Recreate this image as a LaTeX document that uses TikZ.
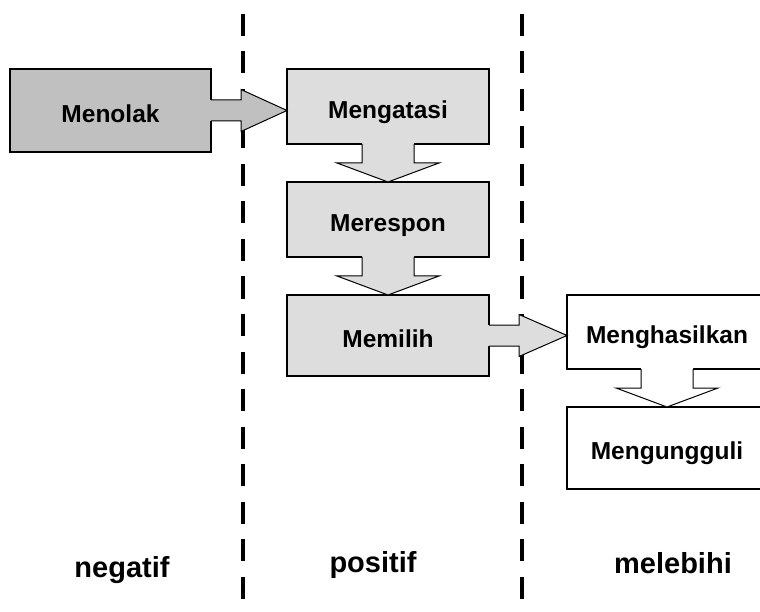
\documentclass[tikz,border=0pt]{standalone}
\usepackage{fontspec}
\setmainfont{Liberation Sans}
\usetikzlibrary{calc}
\definecolor{darkfill}{HTML}{C0C0C0}
\definecolor{lightfill}{HTML}{DDDDDD}
\tikzset{
  box/.style={draw=black, line width=1.2pt, inner sep=0pt, outer sep=0pt,
    font=\fontsize{24.5}{29}\selectfont\bfseries, text height=23.6pt, text depth=0pt},
  divider/.style={line width=3.2pt, dash pattern=on 22pt off 15.5pt},
  lbl/.style={font=\fontsize{29}{34}\selectfont\bfseries, anchor=base, inner sep=0pt},
  arrowline/.style={draw=black, line width=1pt, line join=miter},
}
\newcommand\blockdown[3]{%
  \fill[#3] ($(#1.south)+(-26,-1)$) -- ($(#1.south)+(-26,19)$) -- ($(#1.south)+(-51,19)$) -- (#2.north)
     -- ($(#1.south)+(51,19)$) -- ($(#1.south)+(26,19)$) -- ($(#1.south)+(26,-1)$) -- cycle;
  \draw[arrowline] ($(#1.south)+(-26,0)$) -- ($(#1.south)+(-26,19)$) -- ($(#1.south)+(-51,19)$) -- (#2.north)
     -- ($(#1.south)+(51,19)$) -- ($(#1.south)+(26,19)$) -- ($(#1.south)+(26,0)$);
}
\newcommand\blockright[3]{%
  \coordinate (tip-#1) at (#2.west |- #1.east);
  \fill[#3] ($(#1.east)+(-1,-10.5)$) -- ($(#1.east)+(30,-10.5)$) -- ($(#1.east)+(30,-21)$) -- (tip-#1)
     -- ($(#1.east)+(30,21)$) -- ($(#1.east)+(30,10.5)$) -- ($(#1.east)+(-1,10.5)$) -- cycle;
  \draw[arrowline] ($(#1.east)+(0,-10.5)$) -- ($(#1.east)+(30,-10.5)$) -- ($(#1.east)+(30,-21)$) -- (tip-#1)
     -- ($(#1.east)+(30,21)$) -- ($(#1.east)+(30,10.5)$) -- ($(#1.east)+(0,10.5)$);
}
\begin{document}
\begin{tikzpicture}[x=1pt,y=-1pt]
  \useasboundingbox (0,0) rectangle (760,612);
  \clip (0,0) rectangle (760,612);
  \fill[white] (0,0) rectangle (760,612);

  % dividers
  \draw[divider] (243,14) -- (243,612);
  \draw[divider] (522,14) -- (522,612);

  % boxes
  \node[box, fill=darkfill, minimum width=201pt, minimum height=83pt] (menolak) at (110.5,110.5) {Menolak};
  \node[box, fill=lightfill, minimum width=202pt, minimum height=75pt] (mengatasi) at (388,106.5) {Mengatasi};
  \node[box, fill=lightfill, minimum width=202pt, minimum height=75pt] (merespon) at (388,219.5) {Merespon};
  \node[box, fill=lightfill, minimum width=202pt, minimum height=81pt] (memilih) at (388,335.5) {Memilih};
  \node[box, fill=white, minimum width=200pt, minimum height=74pt] (menghasilkan) at (667,332) {Menghasilkan};
  \node[box, fill=white, minimum width=200pt, minimum height=82pt] (mengungguli) at (667,448) {Mengungguli};

  % block arrows
  \blockright{menolak}{mengatasi}{darkfill}
  \blockdown{mengatasi}{merespon}{lightfill}
  \blockdown{merespon}{memilih}{lightfill}
  \blockright{memilih}{menghasilkan}{lightfill}
  \blockdown{menghasilkan}{mengungguli}{white}

  % column labels
  \node[lbl] (neg) at (122,577.7) {negatif};
  \node[lbl] (pos) at (373,572) {positif};
  \node[lbl] (mel) at (673,573) {melebihi};
\end{tikzpicture}
\end{document}
